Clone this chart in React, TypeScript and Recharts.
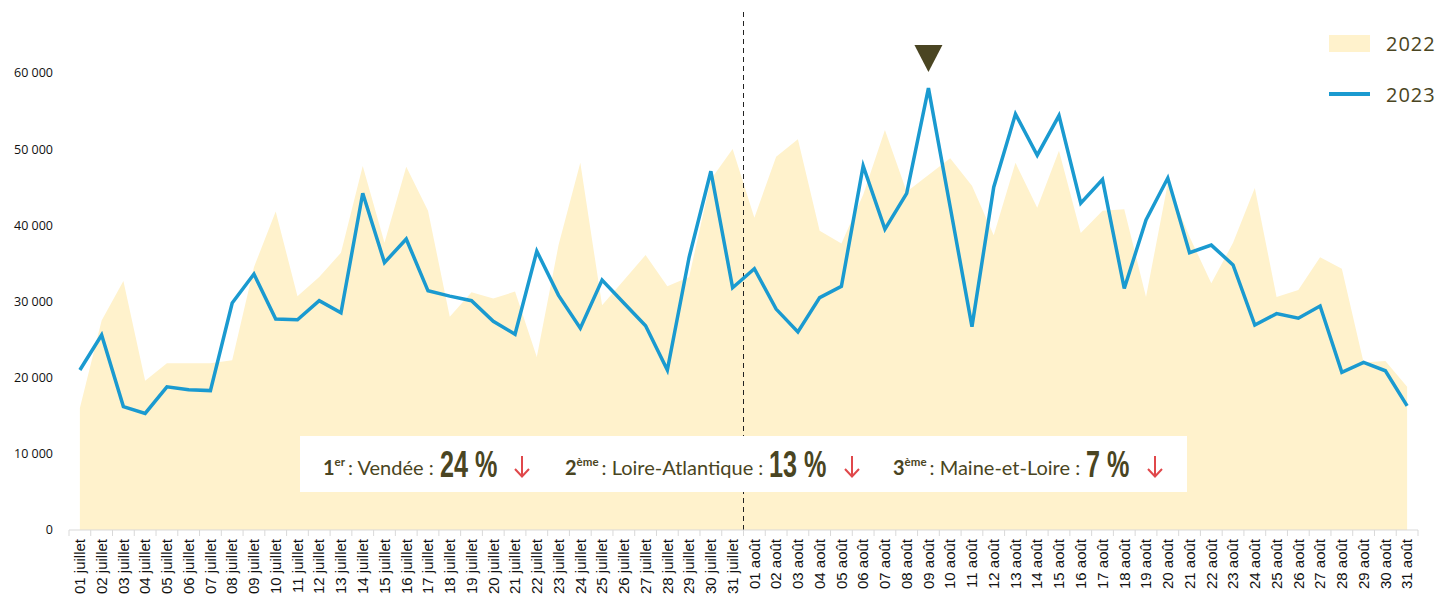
import React from 'react';
import {
  ComposedChart,
  Area,
  Line,
  XAxis,
  YAxis,
  ReferenceLine,
  ReferenceDot,
} from 'recharts';

const dates = [
  '01 juillet', '02 juillet', '03 juillet', '04 juillet', '05 juillet', '06 juillet', '07 juillet', '08 juillet',
  '09 juillet', '10 juillet', '11 juillet', '12 juillet', '13 juillet', '14 juillet', '15 juillet', '16 juillet',
  '17 juillet', '18 juillet', '19 juillet', '20 juillet', '21 juillet', '22 juillet', '23 juillet', '24 juillet',
  '25 juillet', '26 juillet', '27 juillet', '28 juillet', '29 juillet', '30 juillet', '31 juillet',
  '01 août', '02 août', '03 août', '04 août', '05 août', '06 août', '07 août', '08 août',
  '09 août', '10 août', '11 août', '12 août', '13 août', '14 août', '15 août', '16 août',
  '17 août', '18 août', '19 août', '20 août', '21 août', '22 août', '23 août', '24 août',
  '25 août', '26 août', '27 août', '28 août', '29 août', '30 août', '31 août',
];

const values2022 = [
  16000, 27500, 32700, 19600, 21900, 21900, 21900, 22300, 34500, 41800, 30700, 33200, 36400, 47800, 37700, 47700,
  41900, 28000, 31200, 30400, 31300, 22700, 37400, 48200, 29500, 32800, 36100, 32000, 33200, 46000, 50000,
  41000, 49000, 51300, 39300, 37600, 44000, 52500, 44400, 46600, 48800, 45200, 38700, 48200, 42300, 49800,
  39000, 41900, 42100, 30600, 45500, 38500, 32400, 37700, 44900, 30600, 31500, 35800, 34300, 22000, 22200, 18800,
];

const values2023 = [
  21000, 25600, 16200, 15300, 18800, 18400, 18300, 29800, 33600, 27700, 27600, 30100, 28500, 44200, 35100, 38200,
  31400, 30700, 30100, 27400, 25700, 36600, 30800, 26500, 32800, 29800, 26800, 21000, 35800, 47100, 31800,
  34300, 29000, 26000, 30500, 32000, 47800, 39500, 44200, 58000, 42400, 26700, 45000, 54600, 49200, 54400,
  42900, 46000, 31700, 40700, 46200, 36400, 37400, 34800, 26900, 28400, 27800, 29400, 20700, 22000, 20900, 16300,
];

const yTicks = [0, 10000, 20000, 30000, 40000, 50000, 60000];

const ranking = [
  { rank: '1', sup: 'er', name: 'Vendée', pct: '24 %' },
  { rank: '2', sup: 'ème', name: 'Loire-Atlantique', pct: '13 %' },
  { rank: '3', sup: 'ème', name: 'Maine-et-Loire', pct: '7 %' },
];

const data = dates.map((d, i) => ({ date: d, y2022: values2022[i], y2023: values2023[i] }));

const OLIVE = '#4a4522';
const AREA = '#fff2cc';
const BLUE = '#1a9ad0';
const RED = '#e0484b';

const fmt = (v: number) => (v === 0 ? '0' : `${v / 1000} 000`);

// rough advance widths of Liberation Sans Bold at 36px, squeezed to look condensed
const pctWidth = (s: string) =>
  0.7 * s.split('').reduce((w, c) => w + (c === ' ' ? 10 : c === '%' ? 32 : 20), 0);

const DateTick = (props: any) => {
  const { x, y, payload } = props;
  const off = payload.offset || 10.88;
  const last = payload.index === dates.length - 1;
  return (
    <g>
      <line x1={x - off} x2={x - off} y1={y - 8} y2={y - 2} stroke="#d9d9d9" />
      {last && <line x1={x + off} x2={x + off} y1={y - 8} y2={y - 2} stroke="#d9d9d9" />}
      <text
        x={x}
        y={y + 1}
        dy="0.35em"
        transform={`rotate(-90, ${x}, ${y + 1})`}
        textAnchor="end"
        fontFamily="'Liberation Sans', Arial, sans-serif"
        fontSize={15}
        fill="#111"
      >
        {payload.value}
      </text>
    </g>
  );
};

const Triangle = (props: any) => {
  const { cx, cy } = props;
  return (
    <polygon
      points={`${cx - 14},${cy - 13.5} ${cx + 14},${cy - 13.5} ${cx},${cy + 13.5}`}
      fill={OLIVE}
    />
  );
};

const DownArrow = () => (
  <svg width={18} height={24} style={{ marginLeft: 14, position: 'relative', top: 3 }}>
    <line x1={9} y1={1} x2={9} y2={21} stroke={RED} strokeWidth={2} />
    <polyline points="2,14 9,21.5 16,14" fill="none" stroke={RED} strokeWidth={2} />
  </svg>
);

export default function App() {
  return (
    <div style={{ position: 'absolute', left: 0, top: 0, width: 1440, height: 597, background: '#fff' }}>
      <ComposedChart
        width={1440}
        height={597}
        data={data}
        margin={{ top: 12, right: 22, bottom: 0, left: 0 }}
      >
        <XAxis
          dataKey="date"
          scale="band"
          interval={0}
          height={67}
          tick={<DateTick />}
          tickLine={false}
          axisLine={{ stroke: '#d9d9d9' }}
        />
        <YAxis
          domain={[0, 68000]}
          ticks={yTicks}
          tickFormatter={fmt}
          width={69}
          axisLine={false}
          tickLine={false}
          tickSize={0}
          tickMargin={16}
          tick={{ fontFamily: "'Open Sans', sans-serif", fontSize: 12.5, fill: '#111' }}
        />
        <Area
          dataKey="y2022"
          type="linear"
          stroke="none"
          fill={AREA}
          fillOpacity={1}
          isAnimationActive={false}
        />
        {/* separation between the two months, on the boundary of the 31 juillet band */}
        <ReferenceLine
          x="31 juillet"
          position="end"
          stroke="#222"
          strokeDasharray="5 4"
          strokeWidth={1}
        />
        <Line
          dataKey="y2023"
          type="linear"
          stroke={BLUE}
          strokeWidth={3.5}
          dot={false}
          isAnimationActive={false}
        />
        <ReferenceDot x="09 août" y={61900} shape={<Triangle />} />
      </ComposedChart>

      <div style={{ position: 'absolute', left: 1329, top: 31, fontFamily: "'Open Sans', sans-serif", color: OLIVE }}>
        <div style={{ display: 'flex', alignItems: 'center', height: 24 }}>
          <div style={{ width: 41, height: 17, background: AREA }} />
          <span style={{ marginLeft: 16, fontSize: 20, letterSpacing: 1 }}>2022</span>
        </div>
        <div style={{ display: 'flex', alignItems: 'center', height: 24, marginTop: 27 }}>
          <div style={{ width: 41, height: 4, background: BLUE }} />
          <span style={{ marginLeft: 16, fontSize: 20, letterSpacing: 1 }}>2023</span>
        </div>
      </div>

      <div
        style={{
          position: 'absolute',
          left: 300,
          top: 436,
          width: 887,
          height: 56,
          background: '#fff',
          color: OLIVE,
        }}
      >
        {ranking.map((r, i) => (
          <div
            key={r.rank}
            style={{
              position: 'absolute',
              left: [23, 265, 593][i],
              top: 0,
              height: 56,
              display: 'flex',
              alignItems: 'center',
              whiteSpace: 'nowrap',
            }}
          >
            <span style={{ fontFamily: 'Lato, sans-serif', fontSize: 20, fontWeight: 700, position: 'relative', top: 3 }}>
              {r.rank}
            </span>
            <span style={{ fontFamily: 'Lato, sans-serif', fontSize: 11.5, fontWeight: 700, position: 'relative', top: -3 }}>
              {r.sup}
            </span>
            <span style={{ fontFamily: 'Lato, sans-serif', fontSize: 20, marginLeft: 3, position: 'relative', top: 3 }}>
              {`: ${r.name} :`}
            </span>
            <svg width={pctWidth(r.pct) + 2} height={44} style={{ marginLeft: 6, overflow: 'visible' }}>
              <text
                x={0}
                y={35}
                textLength={pctWidth(r.pct)}
                lengthAdjust="spacingAndGlyphs"
                fontFamily="'Liberation Sans', Arial, sans-serif"
                fontWeight={700}
                fontSize={36}
                fill={OLIVE}
              >
                {r.pct}
              </text>
            </svg>
            <DownArrow />
          </div>
        ))}
      </div>
    </div>
  );
}
